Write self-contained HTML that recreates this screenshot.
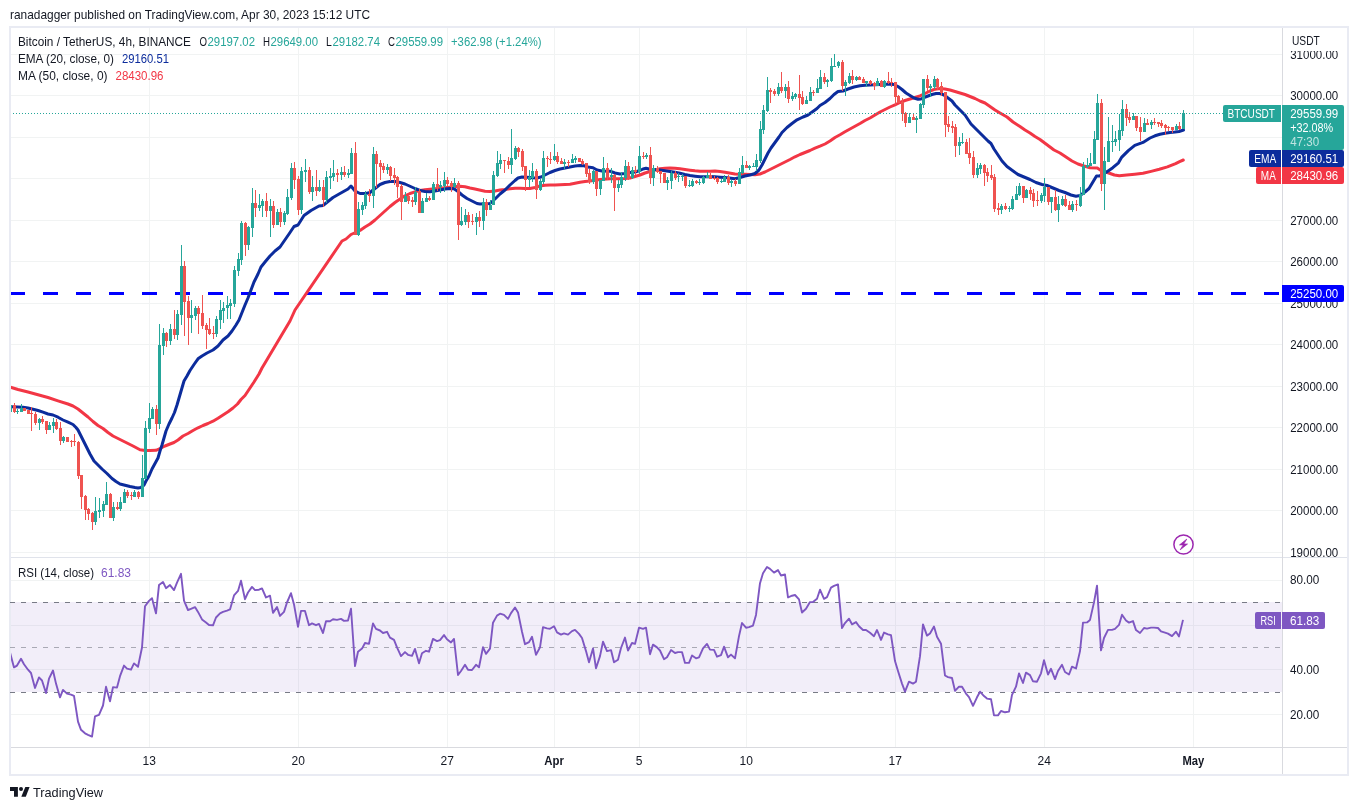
<!DOCTYPE html>
<html><head><meta charset="utf-8"><title>BTCUSDT</title>
<style>
html,body{margin:0;padding:0;background:#fff;}
body{width:1358px;height:810px;overflow:hidden;position:relative;font-family:"Liberation Sans",sans-serif;}
svg{position:absolute;left:0;top:0;display:block;will-change:transform}
text{font-family:"Liberation Sans",sans-serif;}
</style></head><body>
<svg width="1358" height="810" viewBox="0 0 1358 810">
<rect width="1358" height="810" fill="#fff"/>

<text x="10" y="19" font-size="13.5" fill="#131722" textLength="360" lengthAdjust="spacingAndGlyphs">ranadagger published on TradingView.com, Apr 30, 2023 15:12 UTC</text>
<rect x="10" y="27" width="1338" height="748" fill="#fff" stroke="#e9ebf3" stroke-width="2"/>
<path d="M11 54.5H1282M11 95.5H1282M11 137.5H1282M11 178.5H1282M11 220.5H1282M11 261.5H1282M11 303.5H1282M11 344.5H1282M11 386.5H1282M11 427.5H1282M11 469.5H1282M11 510.5H1282M11 552.5H1282M11 580.5H1282M11 625.5H1282M11 669.5H1282M11 714.5H1282M149.5 28V747M298.5 28V747M447.5 28V747M554.5 28V747M639.5 28V747M746.5 28V747M895.5 28V747M1044.5 28V747M1193.5 28V747" stroke="#f1f3f3" stroke-width="1" fill="none"/>
<rect x="11" y="602" width="1271" height="90" fill="#7e57c2" fill-opacity="0.1"/>
<path d="M10 602.5H1282M10 692.5H1282" stroke="#787b86" stroke-width="1" stroke-dasharray="5 6" fill="none"/>
<path d="M10 647.5H1282" stroke="#787b86" stroke-opacity="0.6" stroke-width="1" stroke-dasharray="5 6" fill="none"/>
<defs><clipPath id="cp"><rect x="11" y="28" width="1271" height="529"/></clipPath><clipPath id="cr"><rect x="11" y="558" width="1271" height="189"/></clipPath></defs>
<path d="M10 293.5H1282" stroke="#0000ff" stroke-width="3" stroke-dasharray="15 18" fill="none" clip-path="url(#cp)"/>
<g clip-path="url(#cp)" fill="none" stroke-linejoin="round" stroke-linecap="round"><path d="M10 387 L18 389.5 L28 392 L38 394.7 L48 397.5 L58 400.8 L68 404 L73 406 L78 409 L83 413 L88 417 L93 421.5 L98 425.5 L103 428.5 L108 432.5 L113 436 L118 438.5 L123 441 L128 443.5 L133 446 L140 449.8 L145 450.5 L150 450.5 L156 450.3 L160 448.5 L165 446 L170 444 L174 442.5 L178 440 L183 436 L188 433.5 L193 430.5 L198 427.8 L203 425.5 L208 423.5 L213 421.2 L218 418.2 L223 415 L228 411.8 L233 408 L237.5 404 L241 399.5 L245 395.5 L254 382 L259 374 L262 368 L265 363 L290 321 L295 310 L342 241 L346 239 L351 234.5 L360 230.5 L365 227 L370 224 L375 220 L380 215.5 L385 211 L390 206.5 L395 202.5 L400 199 L405 195.8 L410 193.5 L415 191.8 L420 190.5 L425 189.8 L430 189.3 L435 188.8 L440 188.3 L445 187.8 L450 187.2 L455 186.5 L460 186.2 L465 186.8 L470 188 L475 189 L485 191.2 L490 191.5 L495 191 L500 190 L505 189.5 L510 188.8 L515 188.2 L520 188.2 L525 188.5 L530 188.5 L535 187.5 L540 186 L545 185.3 L550 185 L555 185 L560 184.7 L565 184.5 L570 184.2 L575 183.2 L580 182.2 L585 181.5 L590 181 L595 180.2 L600 179.5 L610 178.8 L615 178.8 L620 178.8 L625 178.5 L630 178 L635 176.5 L640 175 L645 173 L650 171.5 L655 170 L660 168.8 L665 168.2 L670 168 L675 168.2 L680 168.8 L685 169.5 L690 170.2 L695 170.8 L700 171.2 L705 171.2 L710 171.2 L715 171 L720 171.5 L725 172.2 L735 174 L740 174.3 L745 174.3 L750 174.5 L755 174.8 L760 174 L765 172 L770 169.5 L775 167 L780 164.5 L785 162 L790 159.5 L795 156.8 L800 154.5 L805 152.5 L810 150.5 L815 148.2 L820 146.2 L825 144 L830 141 L835 137.5 L840 134.8 L845 131.8 L850 129 L860 123.5 L865 120.5 L870 118 L875 115 L880 112 L885 109.5 L890 107 L895 104.8 L900 102.5 L905 100.5 L910 99 L915 97.5 L920 95.8 L925 93.5 L930 91 L935 89.2 L940 88.5 L945 89 L950 90 L955 91.5 L960 93 L965 94.5 L970 96.5 L975 98.5 L980 101 L985 103 L995 110 L1000 113 L1007 117 L1013 122 L1020 126.5 L1025 130 L1030 133 L1035 136.5 L1040 139.5 L1054 150 L1060 153 L1066 157 L1072 161 L1078 164 L1084 166 L1090 167.7 L1097.3 168.1 L1100.6 170.2 L1108.7 173 L1114.4 175 L1119.3 175.7 L1126.7 175 L1134.8 174.2 L1143 173.3 L1151.1 171.4 L1159.3 169.3 L1167.4 166.9 L1175.6 163.6 L1179.6 161.6 L1183.3 160" stroke="#f23645" stroke-width="3"/><path d="M11 406.8 L18 407 L23 407.2 L28 408 L33 409.2 L38 410.5 L43 412.2 L48 414 L53 415 L58 417.2 L63 420 L68 422.2 L73 424.5 L76 427.5 L78 430 L80 434 L83 440 L86 446 L90 454 L94 461 L102 469 L107 473.5 L112 478.5 L116 481.5 L120 484 L125 485.2 L130 486.5 L135 487.5 L138 488 L141 487.5 L144 485 L146 481 L149 476 L152 469 L158 458 L160 451 L162 445 L164 438 L166 431 L169 424 L172 418 L174.5 412.5 L177 405 L184 381 L187 376 L190 370.5 L194 364.5 L198 358.8 L202 356 L207 353 L213 350 L218 346 L223 340 L228 336 L232 331 L236 325 L239 320 L245 305 L248 298 L251 290 L254 282 L258 274 L261 267 L265 262 L270 256 L275 251 L280 247 L289 234 L294 226.5 L298 225 L304 215.5 L311 210.5 L319 206 L323 205.5 L328 201.5 L333 197.5 L340 193.5 L348 189 L351 186 L355 191 L360 193.5 L366 193.5 L370 192.5 L380 184.5 L385 182.5 L390 181.5 L395 181.5 L400 182.5 L405 184 L415 188.5 L420 190.5 L425 191.5 L430 191.8 L435 191 L440 190 L445 189 L450 188.5 L454 188.8 L458 191.5 L462 195 L467 198.5 L472 201 L477 203.5 L480 204 L490 203.5 L495 199 L500 194 L505 190 L510 185 L515 180.5 L518 178 L522 177 L527 177.2 L532 177.8 L537 178 L541 177 L545 175 L550 172.5 L555 170.5 L560 169 L565 168 L570 167 L575 166 L580 165.5 L584 165.8 L588 167 L593 167.8 L597 170 L602 171 L610 171.2 L615 173 L620 174 L625 173.5 L630 172.5 L635 172 L640 170.5 L643 169 L646 168.2 L650 169.2 L655 169.5 L660 170 L665 170.8 L670 171.5 L675 172.2 L680 173.2 L685 174.5 L690 175.5 L695 176.2 L700 176.8 L705 176.8 L710 176.5 L715 176.8 L720 177.2 L725 177.5 L735 178.8 L740 177.5 L745 176 L750 175 L755 173.5 L759 170 L762 165 L765 159 L768 153 L771 148 L775 142.5 L779 137 L782 132.5 L787 127.5 L792 123.5 L797 119.8 L803 117 L808 115 L817 108.5 L820 105.5 L825 102.5 L830 98.5 L834 94.5 L838 91.5 L843 91 L848 89 L854 87 L860 85.8 L865 85.2 L870 85 L875 84.8 L880 84.5 L885 84.3 L890 84.2 L894 84.5 L898 86.5 L902 89.5 L906 93 L910 95.5 L914 98 L918 99.2 L921 99 L924 97.5 L928 96 L932 94.5 L936 93.5 L940 93.5 L944 95 L948 98 L952 101 L955 105 L960 110 L965 115 L971 124 L977 130 L983 136 L988 141 L991 143.5 L994 149 L998 155 L1002 161 L1007 166.5 L1018 174.5 L1024 177 L1030 179.5 L1036 182.5 L1042 184.5 L1047 185.5 L1053 188 L1059 190.5 L1065 192.5 L1071 195 L1076 196.2 L1080 195.5 L1085 192 L1089 188.5 L1096.5 175.9 L1099.8 175.9 L1106.3 172.2 L1112.8 167.7 L1118.5 162.8 L1121.8 157.1 L1128.3 150.6 L1134.8 145.3 L1143 142.4 L1150 138 L1155 135.8 L1160 134.2 L1165 133.2 L1170 132.5 L1175 132 L1179 131.5 L1182 130.5 L1183.5 130" stroke="#0c2c9c" stroke-width="3"/></g>
<g clip-path="url(#cp)" shape-rendering="crispEdges"><path d="M13 405h3v7h-3zM14 403h1v2h-1zM14 412h1v1h-1zM23 408h3v3h-3zM27 410h3v4h-3zM30 413h3v1h-3zM31 407h1v6h-1zM31 414h1v17h-1zM34 414h3v9h-3zM35 412h1v2h-1zM35 423h1v2h-1zM41 419h3v3h-3zM42 416h1v3h-1zM42 422h1v2h-1zM45 421h3v9h-3zM46 430h1v4h-1zM55 422h3v7h-3zM56 419h1v3h-1zM56 429h1v1h-1zM59 428h3v13h-3zM60 422h1v6h-1zM60 441h1v4h-1zM66 437h3v5h-3zM70 441h3v1h-3zM71 440h1v1h-1zM71 442h1v5h-1zM73 441h3v1h-3zM74 434h1v7h-1zM74 442h1v4h-1zM77 442h3v34h-3zM78 441h1v1h-1zM78 476h1v3h-1zM80 475h3v22h-3zM81 497h1v12h-1zM84 496h3v14h-3zM85 495h1v1h-1zM85 510h1v10h-1zM87 509h3v5h-3zM88 508h1v1h-1zM88 514h1v6h-1zM91 513h3v9h-3zM92 512h1v1h-1zM92 522h1v8h-1zM109 494h3v24h-3zM110 493h1v1h-1zM116 507h3v2h-3zM117 502h1v5h-1zM117 509h1v1h-1zM126 492h3v4h-3zM127 490h1v2h-1zM127 496h1v2h-1zM130 495h3v1h-3zM131 492h1v3h-1zM131 496h1v4h-1zM137 492h3v5h-3zM138 491h1v1h-1zM138 497h1v2h-1zM155 409h3v15h-3zM156 405h1v4h-1zM156 424h1v11h-1zM165 333h3v8h-3zM166 332h1v1h-1zM166 341h1v6h-1zM173 329h3v6h-3zM174 310h1v19h-1zM174 335h1v4h-1zM183 266h3v36h-3zM184 261h1v5h-1zM184 302h1v34h-1zM187 301h3v17h-3zM188 296h1v5h-1zM188 318h1v27h-1zM197 308h3v6h-3zM198 306h1v2h-1zM198 314h1v20h-1zM201 313h3v13h-3zM202 295h1v18h-1zM202 326h1v3h-1zM205 325h3v5h-3zM206 323h1v2h-1zM206 330h1v19h-1zM208 329h3v5h-3zM209 318h1v11h-1zM209 334h1v1h-1zM212 333h3v1h-3zM213 326h1v7h-1zM213 334h1v5h-1zM244 223h3v22h-3zM245 222h1v1h-1zM245 245h1v11h-1zM254 203h3v5h-3zM255 190h1v13h-1zM255 208h1v9h-1zM265 201h3v10h-3zM266 193h1v8h-1zM266 211h1v6h-1zM272 206h3v19h-3zM273 201h1v5h-1zM273 225h1v3h-1zM279 212h3v10h-3zM280 208h1v4h-1zM280 222h1v5h-1zM293 168h3v12h-3zM294 162h1v6h-1zM294 180h1v9h-1zM297 179h3v31h-3zM298 176h1v3h-1zM298 210h1v5h-1zM308 170h3v22h-3zM309 167h1v3h-1zM309 192h1v2h-1zM315 187h3v4h-3zM316 170h1v17h-1zM316 191h1v5h-1zM322 187h3v13h-3zM323 180h1v7h-1zM323 200h1v7h-1zM336 173h3v2h-3zM337 169h1v4h-1zM337 175h1v7h-1zM343 172h3v3h-3zM344 166h1v6h-1zM344 175h1v2h-1zM354 153h3v82h-3zM355 142h1v11h-1zM368 194h3v2h-3zM369 189h1v5h-1zM369 196h1v6h-1zM375 154h3v10h-3zM376 151h1v3h-1zM376 164h1v24h-1zM379 163h3v4h-3zM380 160h1v3h-1zM380 167h1v13h-1zM382 166h3v4h-3zM383 163h1v3h-1zM383 170h1v3h-1zM389 167h3v9h-3zM390 166h1v1h-1zM390 176h1v5h-1zM393 175h3v3h-3zM394 168h1v7h-1zM394 178h1v7h-1zM396 177h3v10h-3zM397 176h1v1h-1zM397 187h1v11h-1zM400 186h3v16h-3zM401 184h1v2h-1zM401 202h1v18h-1zM407 196h3v5h-3zM408 195h1v1h-1zM408 201h1v3h-1zM411 200h3v2h-3zM412 197h1v3h-1zM412 202h1v5h-1zM418 191h3v22h-3zM419 189h1v2h-1zM428 198h3v2h-3zM429 196h1v2h-1zM429 200h1v1h-1zM436 184h3v4h-3zM437 168h1v16h-1zM437 188h1v3h-1zM446 180h3v4h-3zM447 177h1v3h-1zM447 184h1v2h-1zM450 183h3v4h-3zM451 181h1v2h-1zM451 187h1v5h-1zM457 183h3v42h-3zM458 181h1v2h-1zM458 225h1v15h-1zM467 215h3v7h-3zM468 212h1v3h-1zM468 222h1v6h-1zM471 221h3v1h-3zM472 214h1v7h-1zM472 222h1v3h-1zM478 217h3v4h-3zM479 211h1v6h-1zM479 221h1v6h-1zM485 202h3v8h-3zM486 199h1v3h-1zM486 210h1v6h-1zM503 160h3v1h-3zM504 161h1v12h-1zM507 161h3v4h-3zM508 157h1v4h-1zM508 165h1v4h-1zM517 148h3v4h-3zM518 147h1v1h-1zM518 152h1v5h-1zM521 151h3v16h-3zM522 149h1v2h-1zM522 167h1v4h-1zM524 166h3v14h-3zM525 180h1v11h-1zM535 171h3v19h-3zM536 169h1v2h-1zM536 190h1v9h-1zM546 158h3v1h-3zM547 156h1v2h-1zM547 159h1v8h-1zM549 159h3v1h-3zM550 152h1v7h-1zM550 160h1v4h-1zM556 156h3v6h-3zM557 152h1v4h-1zM557 162h1v2h-1zM560 161h3v3h-3zM561 158h1v3h-1zM567 162h3v1h-3zM568 160h1v2h-1zM568 163h1v4h-1zM578 158h3v4h-3zM581 161h3v3h-3zM582 159h1v2h-1zM582 164h1v1h-1zM585 163h3v11h-3zM586 174h1v3h-1zM588 173h3v9h-3zM589 169h1v4h-1zM589 182h1v2h-1zM595 171h3v18h-3zM596 189h1v7h-1zM606 168h3v10h-3zM607 163h1v5h-1zM607 178h1v2h-1zM613 175h3v13h-3zM614 174h1v1h-1zM614 188h1v23h-1zM627 166h3v13h-3zM628 162h1v4h-1zM628 179h1v1h-1zM634 170h3v2h-3zM635 166h1v4h-1zM635 172h1v3h-1zM642 156h3v1h-3zM643 152h1v4h-1zM643 157h1v2h-1zM649 155h3v23h-3zM650 147h1v8h-1zM650 178h1v6h-1zM656 168h3v4h-3zM657 166h1v2h-1zM657 172h1v1h-1zM659 171h3v3h-3zM660 174h1v9h-1zM663 173h3v10h-3zM674 173h3v5h-3zM675 171h1v2h-1zM675 178h1v2h-1zM684 176h3v10h-3zM685 186h1v2h-1zM695 181h3v2h-3zM696 180h1v1h-1zM696 183h1v1h-1zM709 175h3v4h-3zM710 173h1v2h-1zM713 178h3v1h-3zM714 176h1v2h-1zM714 179h1v1h-1zM716 178h3v4h-3zM717 177h1v1h-1zM717 182h1v2h-1zM727 177h3v6h-3zM728 175h1v2h-1zM728 183h1v2h-1zM734 181h3v3h-3zM735 179h1v2h-1zM735 184h1v2h-1zM745 165h3v3h-3zM746 161h1v4h-1zM769 90h3v2h-3zM770 88h1v2h-1zM770 92h1v11h-1zM773 91h3v3h-3zM774 89h1v2h-1zM774 94h1v2h-1zM780 87h3v4h-3zM781 72h1v15h-1zM781 91h1v2h-1zM787 87h3v12h-3zM788 81h1v6h-1zM788 99h1v4h-1zM798 94h3v4h-3zM799 75h1v19h-1zM799 98h1v12h-1zM801 97h3v7h-3zM802 91h1v6h-1zM802 104h1v1h-1zM812 92h3v1h-3zM813 90h1v2h-1zM813 93h1v3h-1zM823 77h3v5h-3zM824 73h1v4h-1zM824 82h1v2h-1zM841 62h3v24h-3zM842 60h1v2h-1zM842 86h1v5h-1zM851 76h3v4h-3zM852 70h1v6h-1zM852 80h1v4h-1zM858 77h3v3h-3zM859 76h1v1h-1zM862 79h3v4h-3zM863 77h1v2h-1zM869 81h3v3h-3zM870 80h1v1h-1zM870 84h1v1h-1zM873 83h3v3h-3zM874 82h1v1h-1zM874 86h1v4h-1zM880 81h3v6h-3zM881 80h1v1h-1zM887 81h3v2h-3zM888 72h1v9h-1zM888 83h1v1h-1zM890 82h3v1h-3zM891 78h1v4h-1zM891 83h1v4h-1zM894 82h3v15h-3zM895 97h1v8h-1zM897 96h3v7h-3zM898 95h1v1h-1zM901 102h3v12h-3zM902 98h1v4h-1zM902 114h1v7h-1zM904 113h3v10h-3zM905 112h1v1h-1zM905 123h1v4h-1zM912 117h3v3h-3zM913 113h1v4h-1zM926 79h3v9h-3zM927 75h1v4h-1zM927 88h1v3h-1zM936 79h3v8h-3zM937 78h1v1h-1zM937 87h1v3h-1zM940 86h3v7h-3zM941 82h1v4h-1zM941 93h1v3h-1zM944 92h3v33h-3zM945 125h1v12h-1zM947 124h3v3h-3zM948 116h1v8h-1zM948 127h1v5h-1zM951 126h3v2h-3zM952 121h1v5h-1zM952 128h1v5h-1zM954 127h3v19h-3zM955 124h1v3h-1zM955 146h1v11h-1zM965 142h3v12h-3zM966 139h1v3h-1zM968 153h3v5h-3zM969 138h1v15h-1zM969 158h1v6h-1zM972 157h3v18h-3zM973 151h1v6h-1zM973 175h1v3h-1zM983 165h3v8h-3zM984 164h1v1h-1zM984 173h1v13h-1zM986 172h3v4h-3zM987 168h1v4h-1zM987 176h1v6h-1zM990 175h3v3h-3zM991 165h1v10h-1zM991 178h1v2h-1zM993 177h3v32h-3zM994 174h1v3h-1zM994 209h1v3h-1zM997 208h3v2h-3zM998 203h1v5h-1zM998 210h1v5h-1zM1004 206h3v3h-3zM1005 203h1v3h-1zM1005 209h1v1h-1zM1022 186h3v12h-3zM1023 198h1v5h-1zM1029 190h3v4h-3zM1030 187h1v3h-1zM1030 194h1v6h-1zM1032 193h3v8h-3zM1033 189h1v4h-1zM1033 201h1v6h-1zM1036 200h3v1h-3zM1037 191h1v9h-1zM1037 201h1v5h-1zM1047 187h3v15h-3zM1048 202h1v3h-1zM1054 197h3v13h-3zM1055 190h1v7h-1zM1055 210h1v1h-1zM1064 199h3v7h-3zM1065 195h1v4h-1zM1065 206h1v1h-1zM1068 205h3v5h-3zM1069 201h1v4h-1zM1075 204h3v1h-3zM1076 200h1v4h-1zM1076 205h1v6h-1zM1100 103h3v81h-3zM1101 99h1v4h-1zM1101 184h1v7h-1zM1125 109h3v9h-3zM1126 104h1v5h-1zM1126 118h1v8h-1zM1128 117h3v3h-3zM1129 112h1v5h-1zM1129 120h1v3h-1zM1135 116h3v12h-3zM1136 128h1v3h-1zM1139 127h3v5h-3zM1140 117h1v10h-1zM1140 132h1v9h-1zM1146 123h3v2h-3zM1147 119h1v4h-1zM1153 122h3v1h-3zM1154 118h1v4h-1zM1154 123h1v2h-1zM1157 122h3v2h-3zM1158 124h1v3h-1zM1160 123h3v3h-3zM1161 120h1v3h-1zM1161 126h1v2h-1zM1164 125h3v3h-3zM1165 124h1v1h-1zM1165 128h1v7h-1zM1167 127h3v1h-3zM1168 126h1v1h-1zM1168 128h1v3h-1zM1171 127h3v3h-3zM1172 130h1v3h-1zM1178 126h3v3h-3zM1179 122h1v4h-1zM1179 129h1v1h-1z" fill="#ef5350"/><path d="M9 405h3v7h-3zM10 403h1v2h-1zM16 411h3v1h-3zM17 409h1v2h-1zM17 412h1v2h-1zM20 408h3v4h-3zM21 404h1v4h-1zM38 419h3v4h-3zM39 418h1v1h-1zM39 423h1v7h-1zM48 425h3v5h-3zM49 422h1v3h-1zM52 422h3v4h-3zM53 418h1v4h-1zM53 426h1v7h-1zM62 437h3v4h-3zM63 436h1v1h-1zM63 441h1v2h-1zM94 511h3v11h-3zM95 497h1v14h-1zM95 522h1v3h-1zM98 510h3v2h-3zM99 498h1v12h-1zM99 512h1v6h-1zM102 504h3v7h-3zM103 501h1v3h-1zM103 511h1v6h-1zM105 494h3v11h-3zM106 482h1v12h-1zM112 507h3v11h-3zM113 502h1v5h-1zM113 518h1v3h-1zM119 502h3v7h-3zM120 497h1v5h-1zM120 509h1v2h-1zM123 492h3v11h-3zM124 489h1v3h-1zM133 492h3v5h-3zM134 490h1v2h-1zM141 478h3v19h-3zM142 455h1v23h-1zM144 428h3v51h-3zM145 421h1v7h-1zM148 418h3v11h-3zM149 403h1v15h-1zM149 429h1v4h-1zM151 409h3v10h-3zM152 407h1v2h-1zM158 345h3v79h-3zM159 324h1v21h-1zM159 424h1v5h-1zM162 333h3v13h-3zM163 328h1v5h-1zM163 346h1v9h-1zM169 329h3v12h-3zM170 324h1v5h-1zM170 341h1v4h-1zM176 314h3v21h-3zM177 310h1v4h-1zM177 335h1v5h-1zM180 266h3v49h-3zM181 245h1v21h-1zM181 315h1v10h-1zM190 315h3v3h-3zM191 300h1v15h-1zM191 318h1v15h-1zM194 308h3v8h-3zM195 306h1v2h-1zM195 316h1v4h-1zM215 319h3v15h-3zM216 316h1v3h-1zM216 334h1v3h-1zM219 310h3v10h-3zM220 300h1v10h-1zM220 320h1v9h-1zM222 308h3v3h-3zM223 302h1v6h-1zM223 311h1v12h-1zM226 305h3v3h-3zM227 296h1v9h-1zM227 308h1v11h-1zM229 303h3v3h-3zM230 299h1v4h-1zM230 306h1v13h-1zM233 270h3v34h-3zM234 266h1v4h-1zM234 304h1v3h-1zM237 259h3v12h-3zM238 253h1v6h-1zM238 271h1v5h-1zM240 223h3v37h-3zM241 221h1v2h-1zM241 260h1v5h-1zM247 227h3v18h-3zM248 226h1v1h-1zM248 245h1v5h-1zM251 203h3v25h-3zM252 188h1v15h-1zM252 228h1v9h-1zM258 205h3v3h-3zM259 194h1v11h-1zM259 208h1v3h-1zM261 201h3v5h-3zM262 199h1v2h-1zM262 206h1v11h-1zM269 206h3v5h-3zM270 199h1v7h-1zM270 211h1v26h-1zM276 212h3v13h-3zM277 209h1v3h-1zM283 213h3v9h-3zM284 211h1v2h-1zM284 222h1v3h-1zM286 197h3v17h-3zM287 189h1v8h-1zM287 214h1v1h-1zM290 168h3v30h-3zM291 163h1v5h-1zM291 198h1v2h-1zM300 171h3v39h-3zM301 167h1v4h-1zM301 210h1v4h-1zM304 170h3v2h-3zM305 159h1v11h-1zM305 172h1v10h-1zM311 187h3v5h-3zM312 176h1v11h-1zM312 192h1v9h-1zM318 187h3v4h-3zM319 180h1v7h-1zM319 191h1v1h-1zM325 177h3v23h-3zM326 171h1v6h-1zM326 200h1v3h-1zM329 176h3v2h-3zM330 168h1v8h-1zM330 178h1v11h-1zM332 173h3v4h-3zM333 160h1v13h-1zM333 177h1v4h-1zM340 172h3v3h-3zM341 167h1v5h-1zM341 175h1v5h-1zM347 173h3v2h-3zM348 169h1v4h-1zM348 175h1v3h-1zM350 153h3v21h-3zM351 148h1v5h-1zM357 209h3v26h-3zM358 202h1v7h-1zM358 235h1v1h-1zM361 205h3v5h-3zM362 202h1v3h-1zM362 210h1v5h-1zM364 194h3v12h-3zM365 191h1v3h-1zM365 206h1v3h-1zM372 154h3v42h-3zM373 147h1v7h-1zM373 196h1v12h-1zM386 167h3v3h-3zM387 164h1v3h-1zM387 170h1v4h-1zM404 196h3v6h-3zM405 192h1v4h-1zM414 192h3v10h-3zM415 187h1v5h-1zM415 202h1v3h-1zM421 201h3v12h-3zM422 198h1v3h-1zM425 198h3v4h-3zM426 193h1v5h-1zM432 184h3v16h-3zM433 182h1v2h-1zM439 185h3v2h-3zM440 181h1v4h-1zM440 187h1v6h-1zM443 180h3v6h-3zM444 172h1v8h-1zM444 186h1v6h-1zM453 183h3v4h-3zM454 178h1v5h-1zM454 187h1v1h-1zM460 221h3v4h-3zM461 207h1v14h-1zM461 225h1v1h-1zM464 215h3v7h-3zM465 209h1v6h-1zM465 222h1v3h-1zM475 217h3v5h-3zM476 213h1v4h-1zM476 222h1v13h-1zM482 202h3v19h-3zM483 198h1v4h-1zM483 221h1v9h-1zM489 205h3v5h-3zM490 200h1v5h-1zM492 175h3v30h-3zM493 171h1v4h-1zM496 163h3v13h-3zM497 151h1v12h-1zM497 176h1v1h-1zM499 160h3v4h-3zM500 154h1v6h-1zM500 164h1v5h-1zM510 158h3v7h-3zM511 129h1v29h-1zM511 165h1v9h-1zM514 148h3v11h-3zM515 146h1v2h-1zM515 159h1v1h-1zM528 177h3v3h-3zM529 170h1v7h-1zM529 180h1v7h-1zM531 171h3v7h-3zM532 163h1v8h-1zM532 178h1v4h-1zM539 181h3v9h-3zM540 179h1v2h-1zM540 190h1v1h-1zM542 158h3v24h-3zM543 151h1v7h-1zM543 182h1v2h-1zM553 156h3v4h-3zM554 144h1v12h-1zM554 160h1v1h-1zM563 162h3v2h-3zM564 159h1v3h-1zM564 164h1v5h-1zM571 159h3v4h-3zM572 154h1v5h-1zM574 158h3v2h-3zM575 156h1v2h-1zM575 160h1v3h-1zM592 171h3v11h-3zM593 170h1v1h-1zM593 182h1v2h-1zM599 180h3v9h-3zM600 189h1v6h-1zM602 168h3v13h-3zM603 157h1v11h-1zM610 175h3v2h-3zM611 168h1v7h-1zM611 177h1v6h-1zM617 184h3v4h-3zM618 180h1v4h-1zM618 188h1v4h-1zM620 177h3v8h-3zM621 172h1v5h-1zM621 185h1v3h-1zM624 166h3v12h-3zM625 160h1v6h-1zM625 178h1v3h-1zM631 170h3v8h-3zM632 167h1v3h-1zM632 178h1v1h-1zM638 156h3v16h-3zM639 146h1v10h-1zM639 172h1v2h-1zM645 155h3v2h-3zM646 153h1v2h-1zM646 157h1v2h-1zM652 168h3v10h-3zM653 165h1v3h-1zM653 178h1v8h-1zM666 180h3v3h-3zM667 177h1v3h-1zM667 183h1v7h-1zM670 173h3v8h-3zM671 171h1v2h-1zM671 181h1v8h-1zM677 176h3v1h-3zM678 173h1v3h-1zM678 177h1v5h-1zM681 176h3v1h-3zM682 174h1v2h-1zM682 177h1v4h-1zM688 185h3v1h-3zM689 180h1v5h-1zM689 186h1v1h-1zM691 181h3v5h-3zM692 179h1v2h-1zM692 186h1v1h-1zM698 182h3v1h-3zM699 179h1v3h-1zM699 183h1v2h-1zM702 177h3v6h-3zM703 176h1v1h-1zM703 183h1v1h-1zM706 175h3v3h-3zM707 172h1v3h-1zM720 181h3v1h-3zM721 179h1v2h-1zM721 182h1v1h-1zM723 177h3v5h-3zM724 175h1v2h-1zM730 181h3v2h-3zM731 180h1v1h-1zM731 183h1v4h-1zM738 172h3v12h-3zM739 168h1v4h-1zM741 165h3v8h-3zM742 156h1v9h-1zM742 173h1v1h-1zM748 166h3v2h-3zM749 165h1v1h-1zM749 168h1v2h-1zM752 166h3v1h-3zM753 163h1v3h-1zM755 160h3v7h-3zM756 154h1v6h-1zM756 167h1v4h-1zM759 129h3v32h-3zM760 121h1v8h-1zM760 161h1v2h-1zM762 110h3v20h-3zM763 105h1v5h-1zM763 130h1v4h-1zM766 90h3v21h-3zM767 77h1v13h-1zM767 111h1v1h-1zM777 87h3v7h-3zM778 83h1v4h-1zM778 94h1v2h-1zM784 87h3v4h-3zM785 84h1v3h-1zM785 91h1v7h-1zM791 96h3v3h-3zM792 92h1v4h-1zM792 99h1v2h-1zM794 94h3v3h-3zM795 93h1v1h-1zM795 97h1v2h-1zM805 100h3v4h-3zM806 96h1v4h-1zM809 92h3v9h-3zM810 87h1v5h-1zM816 88h3v5h-3zM817 79h1v9h-1zM819 77h3v12h-3zM820 70h1v7h-1zM826 80h3v2h-3zM827 79h1v1h-1zM827 82h1v5h-1zM830 66h3v15h-3zM831 58h1v8h-1zM831 81h1v1h-1zM833 66h3v1h-3zM834 54h1v12h-1zM837 62h3v4h-3zM838 61h1v1h-1zM838 66h1v2h-1zM844 82h3v4h-3zM845 80h1v2h-1zM845 86h1v10h-1zM848 76h3v7h-3zM849 73h1v3h-1zM849 83h1v1h-1zM855 77h3v3h-3zM856 76h1v1h-1zM856 80h1v1h-1zM865 81h3v2h-3zM866 83h1v4h-1zM876 81h3v5h-3zM877 78h1v3h-1zM883 81h3v6h-3zM884 80h1v1h-1zM884 87h1v1h-1zM908 117h3v6h-3zM909 113h1v4h-1zM915 118h3v2h-3zM916 116h1v2h-1zM916 120h1v13h-1zM919 104h3v15h-3zM920 103h1v1h-1zM922 79h3v26h-3zM923 105h1v3h-1zM929 86h3v2h-3zM930 84h1v2h-1zM930 88h1v9h-1zM933 79h3v8h-3zM934 76h1v3h-1zM934 87h1v2h-1zM958 142h3v4h-3zM959 137h1v5h-1zM959 146h1v9h-1zM961 142h3v1h-3zM962 133h1v9h-1zM962 143h1v1h-1zM976 168h3v7h-3zM977 163h1v5h-1zM977 175h1v3h-1zM979 165h3v4h-3zM980 163h1v2h-1zM980 169h1v5h-1zM1000 206h3v4h-3zM1001 204h1v2h-1zM1001 210h1v4h-1zM1008 208h3v1h-3zM1009 206h1v2h-1zM1009 209h1v3h-1zM1011 199h3v10h-3zM1012 196h1v3h-1zM1012 209h1v1h-1zM1015 194h3v6h-3zM1016 186h1v8h-1zM1018 186h3v9h-3zM1019 183h1v3h-1zM1019 195h1v1h-1zM1025 190h3v8h-3zM1026 189h1v1h-1zM1040 195h3v6h-3zM1041 193h1v2h-1zM1041 201h1v2h-1zM1043 187h3v9h-3zM1044 178h1v9h-1zM1044 196h1v6h-1zM1050 197h3v5h-3zM1051 202h1v11h-1zM1057 204h3v6h-3zM1058 196h1v8h-1zM1058 210h1v12h-1zM1061 199h3v6h-3zM1062 196h1v3h-1zM1062 205h1v1h-1zM1071 204h3v6h-3zM1072 201h1v3h-1zM1072 210h1v2h-1zM1079 194h3v12h-3zM1080 187h1v7h-1zM1080 206h1v1h-1zM1082 166h3v29h-3zM1083 162h1v4h-1zM1086 165h3v2h-3zM1087 158h1v7h-1zM1087 167h1v1h-1zM1089 163h3v3h-3zM1090 153h1v10h-1zM1093 139h3v25h-3zM1094 131h1v8h-1zM1096 103h3v37h-3zM1097 94h1v9h-1zM1103 161h3v23h-3zM1104 147h1v14h-1zM1104 184h1v26h-1zM1107 141h3v21h-3zM1108 117h1v24h-1zM1111 141h3v1h-3zM1112 125h1v16h-1zM1112 142h1v10h-1zM1114 139h3v3h-3zM1115 131h1v8h-1zM1115 142h1v4h-1zM1118 130h3v10h-3zM1119 114h1v16h-1zM1119 140h1v11h-1zM1121 109h3v22h-3zM1122 100h1v9h-1zM1122 131h1v5h-1zM1132 116h3v4h-3zM1133 113h1v3h-1zM1143 123h3v9h-3zM1144 118h1v5h-1zM1150 122h3v3h-3zM1151 120h1v2h-1zM1151 125h1v4h-1zM1175 126h3v4h-3zM1176 124h1v2h-1zM1182 113h3v16h-3zM1183 110h1v3h-1z" fill="#26a69a"/></g>
<path d="M10 113.5H1282" stroke="#26a69a" stroke-width="1" stroke-dasharray="1 2" fill="none" clip-path="url(#cp)"/>
<path d="M10 652.5 L14 667.4 L17 665.6 L21 658.7 L24 664.3 L28 669.7 L31 673 L35 688 L39 677.4 L42 680.5 L46 693 L49 678.7 L53 670.5 L56 683.6 L60 697.4 L63 689.9 L67 693.6 L71 694.6 L74 695.9 L78 721.7 L81 729.8 L85 733.3 L88 734.8 L92 736.6 L95 716.3 L99 714.8 L103 705.5 L106 686.8 L110 701.3 L113 687.1 L117 687.6 L120 676.2 L124 665.6 L127 668.7 L131 669.7 L134 663.4 L138 666.8 L142 647.5 L145 606.3 L149 600.9 L152 598.2 L156 613.4 L159 585.1 L163 582 L166 588.2 L170 585.1 L174 590.1 L177 582.6 L181 573.8 L184 600.7 L188 610 L191 608.8 L195 607.1 L198 611.9 L202 619.4 L206 622.5 L209 625 L213 625.3 L216 617.5 L220 613.4 L223 611.9 L227 610.6 L230 609.4 L234 595.4 L238 590.9 L241 580.7 L245 599.2 L248 592.5 L252 586.9 L255 590.1 L259 589.7 L262 588.4 L266 597.5 L270 595.7 L273 612.9 L277 607.1 L280 615.9 L284 611.9 L287 602.5 L291 593.2 L294 604.4 L298 626.8 L301 610.9 L305 610.9 L309 625.2 L312 623.4 L316 625.2 L319 623.9 L323 633 L326 621.2 L330 621.2 L333 619.3 L337 619.9 L341 618.9 L344 620.9 L348 620.5 L351 608.7 L355 666.1 L358 651.7 L362 648.6 L365 643 L369 643.9 L373 623.4 L376 628.9 L380 630.5 L383 633 L387 631.8 L390 637.6 L394 639.9 L397 647.4 L401 656.1 L405 652.1 L408 654.8 L412 655.8 L415 648.9 L419 663.3 L422 653.3 L426 650.8 L429 651.7 L433 638.9 L437 641.1 L440 640.1 L444 635.1 L447 639.3 L451 642.4 L454 638.9 L458 675 L461 671 L465 664.8 L468 669.8 L472 670 L476 664.8 L479 667.3 L483 647.1 L486 653.8 L490 648.6 L493 622.7 L497 615.6 L500 613.7 L504 614.9 L508 618.9 L511 613.1 L515 607.5 L518 612.4 L522 631.8 L525 644.2 L529 642.1 L532 636.8 L536 654.8 L540 647.4 L543 627.2 L547 628.4 L550 628.7 L554 626.2 L557 632.4 L561 634.6 L564 633.4 L568 634.6 L572 631.1 L575 629.9 L579 633.9 L582 638 L586 651.1 L589 662.3 L593 648.4 L596 668.3 L600 656.1 L603 641.7 L607 651.1 L611 650.1 L614 662.3 L618 659.8 L621 648 L625 637.6 L628 650.5 L632 643 L635 643.9 L639 627.7 L643 628.9 L646 627.7 L650 654.2 L653 644.6 L657 647.4 L660 650.5 L664 659.2 L667 657.3 L671 650.1 L675 653 L678 652.1 L682 652.1 L685 662.9 L689 662.9 L692 655.5 L696 658.3 L699 657.3 L703 648.4 L707 643.9 L710 649.6 L714 649.9 L717 656.7 L721 655.1 L724 646.7 L728 657.3 L731 654.6 L735 658.3 L739 636.1 L742 623 L746 627.7 L749 627.1 L753 625.6 L756 614.9 L760 583.2 L763 573.2 L767 567 L770 568.9 L774 572.6 L778 570.1 L781 575.5 L785 574.5 L788 597.5 L792 595.7 L795 595 L799 599.4 L802 612.5 L806 608.8 L810 602.1 L813 602.1 L817 598.8 L820 589.7 L824 598.8 L827 597.2 L831 587.6 L834 585.9 L838 584.4 L842 628.1 L845 623.1 L849 618.7 L852 624.3 L856 622.1 L859 626.2 L863 630 L866 630 L870 632.8 L874 636.2 L877 630 L881 639.9 L884 632.6 L888 634.3 L891 635.1 L895 661.1 L898 671.1 L902 683.6 L905 691.7 L909 681.7 L913 683.6 L916 681.7 L920 656.2 L923 624.4 L927 635.6 L930 633.5 L934 626.5 L937 636.8 L941 643.7 L945 675.5 L948 677.1 L952 678 L955 690.8 L959 686.7 L962 686.7 L966 693.6 L969 697.1 L973 705.8 L977 697.3 L980 691.7 L984 696.1 L987 698.6 L991 699.2 L994 715.4 L998 715.4 L1001 711 L1005 712.3 L1009 711.6 L1012 694.8 L1016 686.7 L1019 673.4 L1023 683 L1026 672.6 L1030 675.1 L1033 681.3 L1037 681.7 L1041 673.3 L1044 660.3 L1048 674.5 L1051 668.8 L1055 679.1 L1058 671 L1062 664.8 L1065 672 L1069 674.5 L1072 666.7 L1076 668.5 L1080 651.1 L1083 622.6 L1087 622.4 L1090 619.9 L1094 602.4 L1097 585.6 L1101 650.4 L1104 638 L1108 629.9 L1112 629.9 L1115 628.9 L1119 624.9 L1122 614.7 L1126 620.5 L1129 622.6 L1133 621.1 L1136 630.1 L1140 633 L1144 628 L1147 628.6 L1151 627.6 L1154 627.6 L1158 628 L1161 631.4 L1165 632.6 L1168 633.6 L1172 636.1 L1176 631.7 L1179 636.4 L1183 619.9" stroke="#7e57c2" stroke-width="1.9" fill="none" stroke-linejoin="round" clip-path="url(#cr)"/>
<g transform="translate(1183.5 544.5)"><circle r="9.6" fill="#fff" stroke="#9c27b0" stroke-width="1.5"/><path d="M3.3 -5.4L-4 0.4L-0.3 0.4L-3.3 5.3L4 -0.5L0.3 -0.5Z" fill="#9c27b0" stroke="#9c27b0" stroke-width="0.7" stroke-linejoin="round"/></g>
<path d="M11 557.5H1347" stroke="#e0e3eb" stroke-width="1"/>
<path d="M1282.5 28V774M11 747.5H1347" stroke="#d9dadf" stroke-width="1" fill="none"/>
<text x="1290.2" y="58.6" font-size="12" fill="#131722" text-anchor="start" textLength="48" lengthAdjust="spacingAndGlyphs">31000.00</text>
<text x="1290.2" y="99.7" font-size="12" fill="#131722" text-anchor="start" textLength="48" lengthAdjust="spacingAndGlyphs">30000.00</text>
<text x="1290.2" y="141.7" font-size="12" fill="#131722" text-anchor="start" textLength="48" lengthAdjust="spacingAndGlyphs">29000.00</text>
<text x="1290.2" y="182.7" font-size="12" fill="#131722" text-anchor="start" textLength="48" lengthAdjust="spacingAndGlyphs">28000.00</text>
<text x="1290.2" y="224.7" font-size="12" fill="#131722" text-anchor="start" textLength="48" lengthAdjust="spacingAndGlyphs">27000.00</text>
<text x="1290.2" y="265.6" font-size="12" fill="#131722" text-anchor="start" textLength="48" lengthAdjust="spacingAndGlyphs">26000.00</text>
<text x="1290.2" y="307.6" font-size="12" fill="#131722" text-anchor="start" textLength="48" lengthAdjust="spacingAndGlyphs">25000.00</text>
<text x="1290.2" y="348.6" font-size="12" fill="#131722" text-anchor="start" textLength="48" lengthAdjust="spacingAndGlyphs">24000.00</text>
<text x="1290.2" y="390.6" font-size="12" fill="#131722" text-anchor="start" textLength="48" lengthAdjust="spacingAndGlyphs">23000.00</text>
<text x="1290.2" y="431.6" font-size="12" fill="#131722" text-anchor="start" textLength="48" lengthAdjust="spacingAndGlyphs">22000.00</text>
<text x="1290.2" y="473.6" font-size="12" fill="#131722" text-anchor="start" textLength="48" lengthAdjust="spacingAndGlyphs">21000.00</text>
<text x="1290.2" y="514.6" font-size="12" fill="#131722" text-anchor="start" textLength="48" lengthAdjust="spacingAndGlyphs">20000.00</text>
<text x="1290.2" y="556.6" font-size="12" fill="#131722" text-anchor="start" textLength="48" lengthAdjust="spacingAndGlyphs">19000.00</text>
<text x="1290" y="583.7" font-size="12" fill="#131722" text-anchor="start" textLength="29.3" lengthAdjust="spacingAndGlyphs">80.00</text>
<text x="1290" y="673.7" font-size="12" fill="#131722" text-anchor="start" textLength="29.3" lengthAdjust="spacingAndGlyphs">40.00</text>
<text x="1290" y="718.6" font-size="12" fill="#131722" text-anchor="start" textLength="29.3" lengthAdjust="spacingAndGlyphs">20.00</text>
<rect x="1283" y="28" width="64" height="23" fill="#fff"/><text x="1292" y="44.8" font-size="12" fill="#131722" text-anchor="start" textLength="27.8" lengthAdjust="spacingAndGlyphs">USDT</text>
<path d="M1282 285H1342a2 2 0 0 1 2 2V300a2 2 0 0 1 -2 2H1282z" fill="#0000ff"/><text x="1290.2" y="297.7" font-size="12" fill="#fff" text-anchor="start" textLength="48" lengthAdjust="spacingAndGlyphs">25250.00</text>
<path d="M1225 105H1281V122H1225a2 2 0 0 1 -2 -2V107a2 2 0 0 1 2 -2z" fill="#26a69a"/><text x="1227.5" y="117.7" font-size="12" fill="#fff" text-anchor="start" textLength="47.5" lengthAdjust="spacingAndGlyphs">BTCUSDT</text>
<path d="M1282 105H1342a2 2 0 0 1 2 2V148a2 2 0 0 1 -2 2H1282z" fill="#26a69a"/><text x="1290.2" y="117.7" font-size="12" fill="#fff" text-anchor="start" textLength="48" lengthAdjust="spacingAndGlyphs">29559.99</text><text x="1290.2" y="131.6" font-size="12" fill="#fff" text-anchor="start" textLength="43" lengthAdjust="spacingAndGlyphs">+32.08%</text><text x="1290.2" y="145.6" font-size="12" fill="#fff" text-anchor="start" textLength="29" lengthAdjust="spacingAndGlyphs" fill-opacity="0.7">47:30</text>
<path d="M1251 150H1281V167H1251a2 2 0 0 1 -2 -2V152a2 2 0 0 1 2 -2z" fill="#0c2c9c"/><text x="1254.3" y="162.7" font-size="12" fill="#fff" text-anchor="start" textLength="22" lengthAdjust="spacingAndGlyphs">EMA</text>
<path d="M1282 150H1342a2 2 0 0 1 2 2V165a2 2 0 0 1 -2 2H1282z" fill="#0c2c9c"/><text x="1290.2" y="162.7" font-size="12" fill="#fff" text-anchor="start" textLength="48" lengthAdjust="spacingAndGlyphs">29160.51</text>
<path d="M1258 167H1281V184H1258a2 2 0 0 1 -2 -2V169a2 2 0 0 1 2 -2z" fill="#f23645"/><text x="1260.8" y="179.7" font-size="12" fill="#fff" text-anchor="start" textLength="15" lengthAdjust="spacingAndGlyphs">MA</text>
<path d="M1282 167H1342a2 2 0 0 1 2 2V182a2 2 0 0 1 -2 2H1282z" fill="#f23645"/><text x="1290.2" y="179.7" font-size="12" fill="#fff" text-anchor="start" textLength="48" lengthAdjust="spacingAndGlyphs">28430.96</text>
<path d="M1257 612H1281V629H1257a2 2 0 0 1 -2 -2V614a2 2 0 0 1 2 -2z" fill="#7e57c2"/><text x="1260.5" y="624.7" font-size="12" fill="#fff" text-anchor="start" textLength="15.3" lengthAdjust="spacingAndGlyphs">RSI</text>
<path d="M1282 612H1323a2 2 0 0 1 2 2V627a2 2 0 0 1 -2 2H1282z" fill="#7e57c2"/><text x="1290" y="624.7" font-size="12" fill="#fff" text-anchor="start" textLength="29.3" lengthAdjust="spacingAndGlyphs">61.83</text>
<text x="149.2" y="764.7" font-size="12" fill="#131722" text-anchor="middle">13</text>
<text x="298.2" y="764.7" font-size="12" fill="#131722" text-anchor="middle">20</text>
<text x="447.2" y="764.7" font-size="12" fill="#131722" text-anchor="middle">27</text>
<text x="639.2" y="764.7" font-size="12" fill="#131722" text-anchor="middle">5</text>
<text x="746.2" y="764.7" font-size="12" fill="#131722" text-anchor="middle">10</text>
<text x="895.2" y="764.7" font-size="12" fill="#131722" text-anchor="middle">17</text>
<text x="1044.2" y="764.7" font-size="12" fill="#131722" text-anchor="middle">24</text>
<text x="544.3" y="764.7" font-size="12" fill="#131722" text-anchor="start" textLength="19.6" lengthAdjust="spacingAndGlyphs" font-weight="bold">Apr</text>
<text x="1182.4" y="764.7" font-size="12" fill="#131722" text-anchor="start" textLength="21.8" lengthAdjust="spacingAndGlyphs" font-weight="bold">May</text>
<text x="18" y="45.5" font-size="12" fill="#131722" text-anchor="start" textLength="173" lengthAdjust="spacingAndGlyphs">Bitcoin / TetherUS, 4h, BINANCE</text>
<text x="199.5" y="45.5" font-size="12" fill="#131722" text-anchor="start" textLength="7.5" lengthAdjust="spacingAndGlyphs">O</text><text x="207.5" y="45.5" font-size="12" fill="#26a69a" text-anchor="start" textLength="47.5" lengthAdjust="spacingAndGlyphs">29197.02</text><text x="263" y="45.5" font-size="12" fill="#131722" text-anchor="start" textLength="7" lengthAdjust="spacingAndGlyphs">H</text><text x="270.5" y="45.5" font-size="12" fill="#26a69a" text-anchor="start" textLength="47.5" lengthAdjust="spacingAndGlyphs">29649.00</text><text x="326" y="45.5" font-size="12" fill="#131722" text-anchor="start" textLength="5.8" lengthAdjust="spacingAndGlyphs">L</text><text x="332.5" y="45.5" font-size="12" fill="#26a69a" text-anchor="start" textLength="47.5" lengthAdjust="spacingAndGlyphs">29182.74</text><text x="388" y="45.5" font-size="12" fill="#131722" text-anchor="start" textLength="7" lengthAdjust="spacingAndGlyphs">C</text><text x="395.5" y="45.5" font-size="12" fill="#26a69a" text-anchor="start" textLength="47.5" lengthAdjust="spacingAndGlyphs">29559.99</text>
<text x="451" y="45.5" font-size="12" fill="#26a69a" text-anchor="start" textLength="90.5" lengthAdjust="spacingAndGlyphs">+362.98 (+1.24%)</text>
<text x="18" y="62.5" font-size="12" fill="#131722" text-anchor="start" textLength="96" lengthAdjust="spacingAndGlyphs">EMA (20, close, 0)</text><text x="122" y="62.5" font-size="12" fill="#0c2c9c" text-anchor="start" textLength="47" lengthAdjust="spacingAndGlyphs">29160.51</text>
<text x="18" y="79.5" font-size="12" fill="#131722" text-anchor="start" textLength="89.5" lengthAdjust="spacingAndGlyphs">MA (50, close, 0)</text><text x="115.5" y="79.5" font-size="12" fill="#f23645" text-anchor="start" textLength="48" lengthAdjust="spacingAndGlyphs">28430.96</text>
<text x="18" y="577" font-size="12" fill="#131722" text-anchor="start" textLength="76" lengthAdjust="spacingAndGlyphs">RSI (14, close)</text><text x="101" y="577" font-size="12" fill="#7e57c2" text-anchor="start" textLength="30" lengthAdjust="spacingAndGlyphs">61.83</text>
<g fill="#131722"><path d="M10 786.9h7.9v9.9h-3.9v-5.9h-4z"/><circle cx="21" cy="789.1" r="2"/><path d="M25.3 786.9h4.3l-3.8 9.9h-4.5z"/></g>
<text x="33" y="797" font-size="13" fill="#131722" text-anchor="start" textLength="70" lengthAdjust="spacingAndGlyphs">TradingView</text>
</svg></body></html>
